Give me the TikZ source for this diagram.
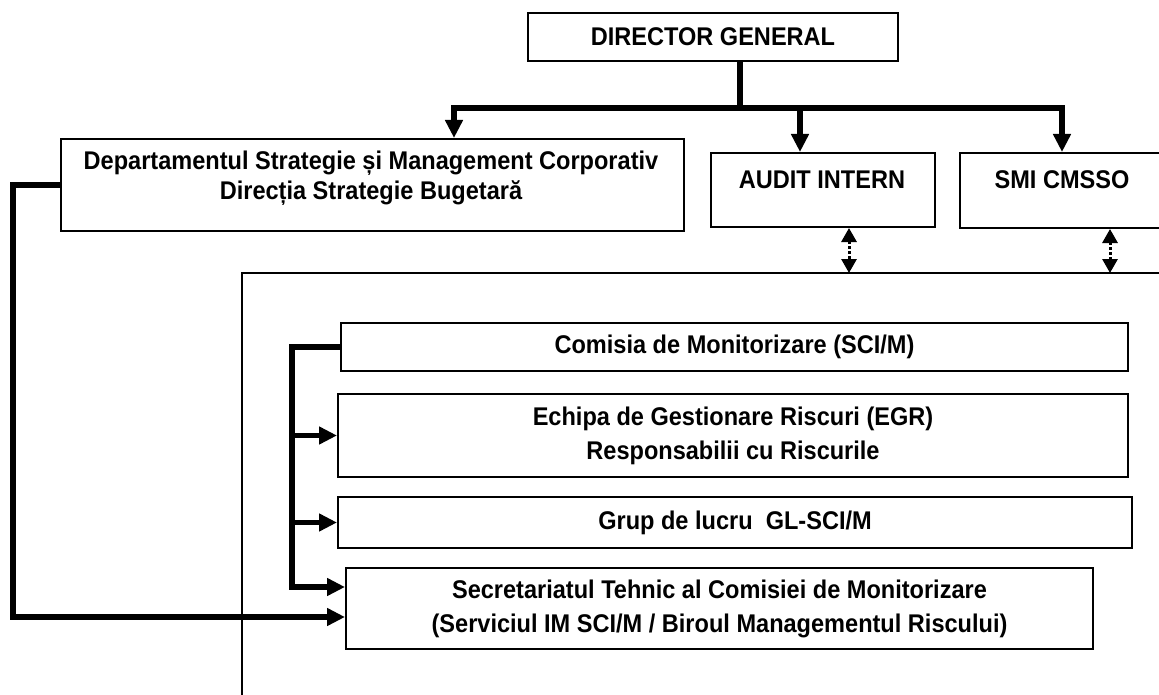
\documentclass[tikz,border=0pt]{standalone}
\usepackage{fontspec}
\setmainfont{Liberation Sans}[FakeStretch=0.92]
\usetikzlibrary{arrows.meta}
\newcommand\diagfont{\fontsize{25.6}{34}\selectfont\bfseries}
\begin{document}
\begin{tikzpicture}[x=1pt,y=-1pt,
  box/.style={draw, line width=2pt, inner sep=0pt, align=center, font=\diagfont, anchor=north west},
  lbl/.style={inner sep=0pt, align=center, font=\diagfont},
  conn/.style={line width=5.5pt},
  arr/.style={conn, -{Triangle[length=18pt,width=17pt]}},
  darr/.style={line width=3pt, dotted, {Triangle[length=14pt,width=15pt]}-{Triangle[length=14pt,width=15pt]}}
]
\useasboundingbox (0,0) rectangle (1159,695);
% container
\draw[line width=2pt] (1175,273) -| (242,712);
% boxes
\node[box, minimum width=370pt, minimum height=48pt] (dir) at (527,12) {DIRECTOR GENERAL};
\node[box, minimum width=623pt, minimum height=92pt] (dept) at (60,138) {};
\node[lbl] at (371,178) {Departamentul Strategie și Management Corporativ\\[-4pt]Direcția Strategie Bugetară};
\node[box, minimum width=224pt, minimum height=74pt] (audit) at (710,152) {};
\node[lbl] at (822,180) {AUDIT INTERN};
\node[box, minimum width=224pt, minimum height=75pt] (smi) at (959,152) {};
\node[lbl] at (1062,180) {SMI CMSSO};
\node[box, minimum width=787pt, minimum height=48pt] (com) at (340,322) {Comisia de Monitorizare (SCI/M)};
\node[box, minimum width=790pt, minimum height=83pt] (egr) at (337,393) {Echipa de Gestionare Riscuri (EGR)\\Responsabilii cu Riscurile};
\node[box, minimum width=794pt, minimum height=51pt] (grup) at (337,496) {Grup de lucru\ \ GL-SCI/M};
\node[box, minimum width=747pt, minimum height=81pt] (sec) at (345,567) {Secretariatul Tehnic al Comisiei de Monitorizare\\(Serviciul IM SCI/M / Biroul Managementul Riscului)};
% director connectors
\coordinate (bus) at (740,108);
\coordinate (dj) at (454,108);
\coordinate (aj) at (800,108);
\coordinate (sj) at (1062,108);
\draw[conn] (bus |- dir.south) -- (bus);
\draw[arr] (bus) -| (dj |- dept.north);
\draw[arr] (bus) -| (sj |- smi.north);
\draw[arr] (aj) -- (aj |- audit.north);
% dotted double arrows
\coordinate (ca) at (849,273);
\coordinate (cs) at (1110,273);
\draw[darr] (ca |- audit.south) -- (ca);
\draw[darr] (cs |- smi.south) -- (cs);
% bracket inside container
\draw[arr] (com.west) -| (292,587) -- (sec.west |- 292,587);
\draw[arr] (egr.west -| 292,0) -- (egr.west);
\draw[arr] (grup.west -| 292,0) -- (grup.west);
% long connector from department
\draw[arr] (dept.west) -| (13,617) -- (sec.west |- 13,617);
\end{tikzpicture}
\end{document}
